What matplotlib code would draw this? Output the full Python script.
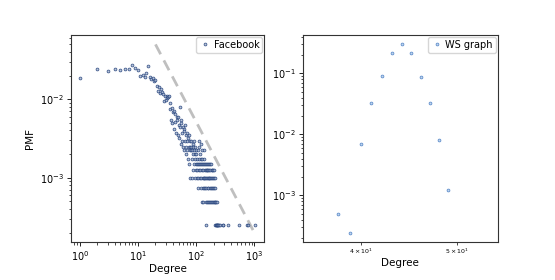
import numpy as np
import matplotlib.pyplot as plt
from matplotlib.ticker import LogLocator, LogFormatterSciNotation

# number of nodes in each graph
n_nodes = 4039

# Facebook degree distribution (degree, count)
fb_degree = [1, 2, 3, 4, 5, 6, 7, 8, 9, 10, 11, 12, 13, 14, 15, 16, 17, 18, 19, 20,
             21, 22, 23, 24, 25, 26, 27, 28, 29, 30, 31, 32, 33, 34, 35, 36, 37, 38, 39, 40,
             41, 42, 43, 44, 45, 46, 47, 48, 49, 50, 51, 52, 53, 54, 55, 56, 57, 58, 59, 60,
             61, 62, 63, 64, 65, 66, 67, 68, 69, 70, 71, 72, 73, 74, 75, 76, 77, 78, 79, 80,
             81, 82, 83, 84, 85, 86, 87, 88, 89, 90, 91, 92, 93, 94, 95, 96, 97, 98, 99, 100,
             101, 102, 103, 104, 105, 106, 107, 108, 109, 110, 111, 112, 113, 114, 115, 116,
             117, 118, 119, 120, 121, 122, 123, 124, 125, 126, 127, 128, 129, 130, 131, 132,
             133, 134, 135, 136, 137, 138, 139, 140, 142, 143, 144, 145, 146, 147, 148,
             149, 150, 151, 152, 154, 155, 156, 157, 158, 159, 160, 162, 163, 164,
             165, 166, 168, 169, 170, 172, 173, 175, 176, 177, 178, 180, 182,
             184, 185, 186, 188, 190, 192, 193, 195, 198, 200, 201, 203, 206,
             207, 208, 210, 213, 215, 218, 220, 222, 224, 226, 228, 230,
             235, 240, 245, 254, 285, 291, 347, 547, 755, 792, 1045]
fb_count = [75, 98, 93, 99, 94, 98, 98, 111, 102, 95, 81, 83, 78, 86, 108, 77, 73, 75, 70, 71,
            60, 52, 58, 48, 55, 50, 47, 38, 44, 40, 45, 42, 43, 44, 30, 36, 22, 31, 20, 28,
            17, 29, 21, 26, 15, 22, 24, 14, 24, 19, 13, 32, 18, 22, 11, 20, 15, 12, 18, 10,
            17, 9, 16, 12, 19, 10, 14, 8, 15, 12, 9, 13, 7, 10, 14, 6, 10, 12, 9, 4,
            10, 9, 12, 7, 4, 9, 5, 11, 8, 10, 12, 6, 9, 8, 7, 10, 4, 9, 5, 6,
            8, 4, 7, 6, 5, 9, 4, 6, 3, 12, 5, 7, 6, 10, 4, 8,
            5, 6, 7, 11, 4, 6, 3, 5, 9, 6, 2, 7, 4, 3, 6, 5,
            2, 4, 9, 6, 3, 4, 7, 5, 6, 3, 4, 1, 5, 6, 2,
            4, 3, 5, 6, 4, 2, 5, 3, 6, 4, 2, 5, 3, 4,
            6, 2, 4, 5, 3, 2, 4, 6, 5, 3, 2, 4, 6,
            3, 5, 2, 4, 5, 3, 2, 4, 5, 2, 3, 4, 5,
            3, 2, 4, 2, 1, 2, 1, 1, 2, 1, 1, 1,
            1, 1, 1, 1, 1, 1, 1, 1, 1, 1, 1]

# Watts-Strogatz graph degree distribution
ws_degree = [38, 39, 40, 41, 42, 43, 44, 45, 46, 47, 48, 49]
ws_count = [2, 1, 28, 131, 361, 877, 1200, 856, 352, 133, 33, 5]

# power law guide line
line_x = [20, 1000]
line_y = [5e-2, 2e-4]

fb_pmf = np.array(fb_count) / n_nodes
ws_pmf = np.array(ws_count) / n_nodes

plt.rcParams['font.size'] = 7

fig = plt.figure(figsize=(5.55, 2.8), dpi=100)
ax1 = fig.add_axes([0.128, 0.136, 0.348, 0.739])
ax2 = fig.add_axes([0.546, 0.136, 0.351, 0.739])

ax1.plot(line_x, line_y, color='gray', alpha=0.5, lw=2, ls=(0, (4, 2.5)))
ax1.plot(fb_degree, fb_pmf, ls='', marker='o', ms=2.0, mew=0.6,
         mec='#1f3d78', mfc='#a8b8d2', alpha=0.8, label='Facebook')
ax1.set_xscale('log')
ax1.set_yscale('log')
ax1.set_xlabel('Degree', fontsize=7.5, labelpad=1)
ax1.set_ylabel('PMF', fontsize=7.5)
ax1.legend(loc='upper right', fontsize=7, handletextpad=0.3, borderpad=0.3,
           handlelength=1.2, borderaxespad=0.2)

ax2.plot(ws_degree, ws_pmf, ls='', marker='o', ms=2.0, mew=0.6,
         mec='#4a7fc4', mfc='#b8cfec', alpha=0.85, label='WS graph')
ax2.set_xscale('log')
ax2.set_yscale('log')
ax2.set_xlim(35, 55)
ax2.set_xlabel('Degree', fontsize=7.5, labelpad=1)
ax2.xaxis.set_minor_locator(LogLocator(base=10, subs=[4, 5]))
ax2.xaxis.set_minor_formatter(LogFormatterSciNotation(labelOnlyBase=False))
ax2.legend(loc='upper right', fontsize=7, handletextpad=0.3, borderpad=0.3,
           handlelength=1.2, borderaxespad=0.2)

for ax in (ax1, ax2):
    for s in ax.spines.values():
        s.set_color('#333333')
    ax.tick_params(which='major', length=3, width=0.6, labelsize=7, pad=2)
    ax.tick_params(which='minor', length=1.8, width=0.5)
ax2.tick_params(axis='x', which='minor', labelsize=4.5, pad=2)

fig.savefig('out.png', dpi=100)
